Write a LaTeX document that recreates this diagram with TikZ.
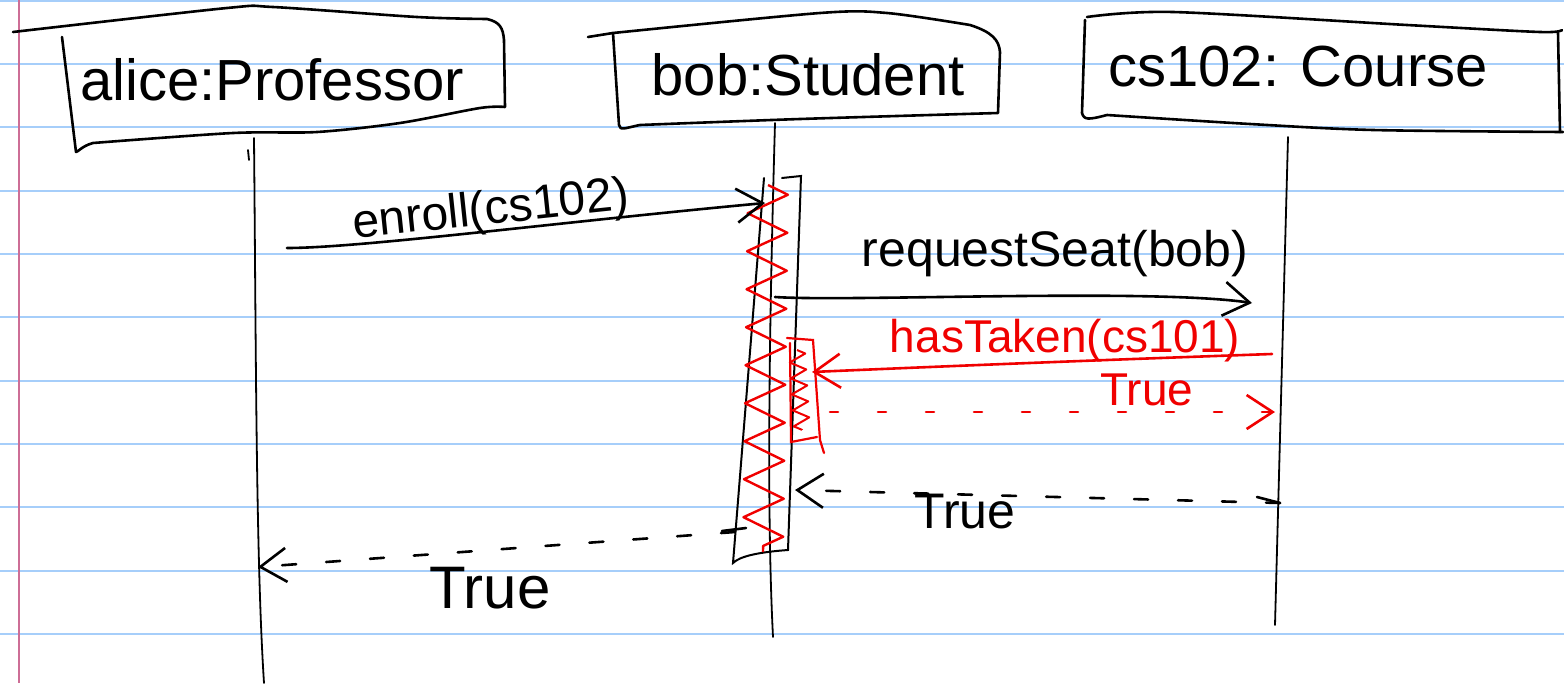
\documentclass[tikz,border=0pt]{standalone}
\usepackage{fontspec}
\setmainfont{Liberation Sans}
\usetikzlibrary{arrows.meta,decorations.pathmorphing}
\definecolor{ruleblue}{RGB}{166,206,250}
\definecolor{marginpink}{RGB}{205,110,150}
\definecolor{redink}{RGB}{240,0,0}
\begin{document}
\begin{tikzpicture}[x=1pt,y=-1pt,
  rule/.style={ruleblue,line width=2pt},
  hand/.style={line width=2.6pt,line cap=round,line join=round},
  life/.style={line width=1.8pt,line cap=round},
  boxlbl/.style={font=\fontsize{58}{64}\selectfont,inner sep=0pt,anchor=base},
  msglbl/.style={font=\fontsize{48}{54}\selectfont,inner sep=0pt,anchor=base},
  tipbarb/.style={-{Straight Barb[length=26pt,width=34pt]}},
  ret/.style={hand,dash pattern=on 14pt off 30pt},
  redret/.style={hand,redink,dash pattern=on 8pt off 40pt},
  zz/.style={redink,line width=2.4pt,line join=round,decorate,decoration={zigzag,amplitude=20pt,segment length=38pt}},
  zzsmall/.style={redink,line width=2pt,line join=round,decorate,decoration={zigzag,amplitude=8pt,segment length=16pt}}]
\useasboundingbox (0,0) rectangle (1564,683);
\fill[white] (0,0) rectangle (1564,683);
% lined paper
\foreach \k in {0,...,10} \draw[rule] (0,{0.5+63.35*\k}) -- (1564,{0.5+63.35*\k});
\draw[marginpink,line width=2pt] (19,0) -- (19,683);

% ---- participant boxes
\node[boxlbl] (alice) at (272,100) {alice:Professor};
\draw[hand] plot[smooth] coordinates {(13,32) (227,8) (273,7) (417,17) (487,19)}
  .. controls (500,22) and (503,28) .. (504,40) -- (505,107)
  plot[smooth] coordinates {(505,107) (480,108) (400,123) (317,132) (233,133) (93,143)}
  .. controls (82,146) and (78,152) .. (76,152) -- (62,37);
\node[boxlbl] (bob) at (808,95) {bob:Student};
\draw[hand] (588,37) -- (613,33);
\draw[hand] plot[smooth] coordinates {(613,33) (820,13) (887,13) (970,25)}
  .. controls (992,32) and (999,40) .. (1000,52) -- (998,113)
  plot[smooth] coordinates {(998,113) (800,119) (640,125)}
  .. controls (625,128) and (620,131) .. (619,125) -- (613,33);
\node[boxlbl] (course) at (1298,86) {cs102: Course};
\draw[hand] plot[smooth] coordinates {(1087,17) (1173,12) (1407,25) (1540,32) (1562,30)};
\draw[hand] (1085,20) -- (1082,113) .. controls (1084,120) and (1088,120) .. (1107,115)
  plot[smooth] coordinates {(1107,115) (1250,124) (1373,130) (1563,132)};
\draw[hand] (1558,33) -- (1560,132);

% ---- lifelines
\coordinate (aT) at (254,138); \coordinate (aB) at (264,683);
\coordinate (bT) at (775,123); \coordinate (bB) at (773,637);
\coordinate (cT) at (1288,137); \coordinate (cB) at (1275,625);
\draw[life] (aT) .. controls (256,350) and (256,560) .. (aB);
\draw[life] (248,150) -- (249,160);
\draw[life] (bT) .. controls (770,300) and (766,500) .. (bB);
\draw[life] (cT) -- (cB);

% ---- activation bars
\draw[life,line width=2pt] (764,178) -- (733,563) .. controls (740,556) and (760,552) .. (788,550) -- (801,176) -- (782,178);
\draw[zz] (768,185) -- (763,552);
\draw[redink,life,line width=2.2pt] (787,338) -- (813,340) -- (820,440) -- (824,453);
\draw[redink,life,line width=2.2pt] (790,343) -- (791,442) -- (817,437);
\draw[zzsmall] (797,350) -- (802,430);

% ---- messages
\coordinate (m1s) at (287,248); \coordinate (m1e) at (765,203);
\draw[hand,tipbarb] (m1s) .. controls (360,248) and (560,222) .. (m1e);
\node[msglbl,rotate=6] (enroll) at (492,224) {enroll(cs102)};

\coordinate (m2s) at (775,297); \coordinate (m2e) at (1252,303);
\draw[hand,tipbarb] (m2s) .. controls (850,302) and (1150,288) .. (m2e);
\node[msglbl,font=\fontsize{50}{56}\selectfont] (req) at (1055,266) {requestSeat(bob)};

\coordinate (m3s) at (1272,354); \coordinate (m3e) at (812,372);
\draw[hand,redink,tipbarb] (m3s) .. controls (1100,360) and (950,366) .. (m3e);
\node[msglbl,redink,font=\fontsize{46}{52}\selectfont] (hastaken) at (1065,352) {hasTaken(cs101)};

\coordinate (m4s) at (830,412); \coordinate (m4e) at (1275,412);
\draw[redret,tipbarb] (m4s) -- (m4e);
\node[msglbl,redink,font=\fontsize{46}{52}\selectfont] (true1) at (1147,405) {True};

\coordinate (m5s) at (1280,503); \coordinate (m5e) at (795,490);
\draw[hand] (1257,497) -- (m5s);
\draw[ret,tipbarb] (m5s) -- (m5e);
\node[msglbl,font=\fontsize{50}{56}\selectfont] (true2) at (965,528) {True};

\coordinate (m6s) at (735,532); \coordinate (m6e) at (258,567);
\draw[hand] (722,531) -- (746,528);
\draw[ret,tipbarb] (m6s) -- (m6e);
\node[msglbl,font=\fontsize{60}{66}\selectfont] (true3) at (490,608) {True};
\end{tikzpicture}
\end{document}
